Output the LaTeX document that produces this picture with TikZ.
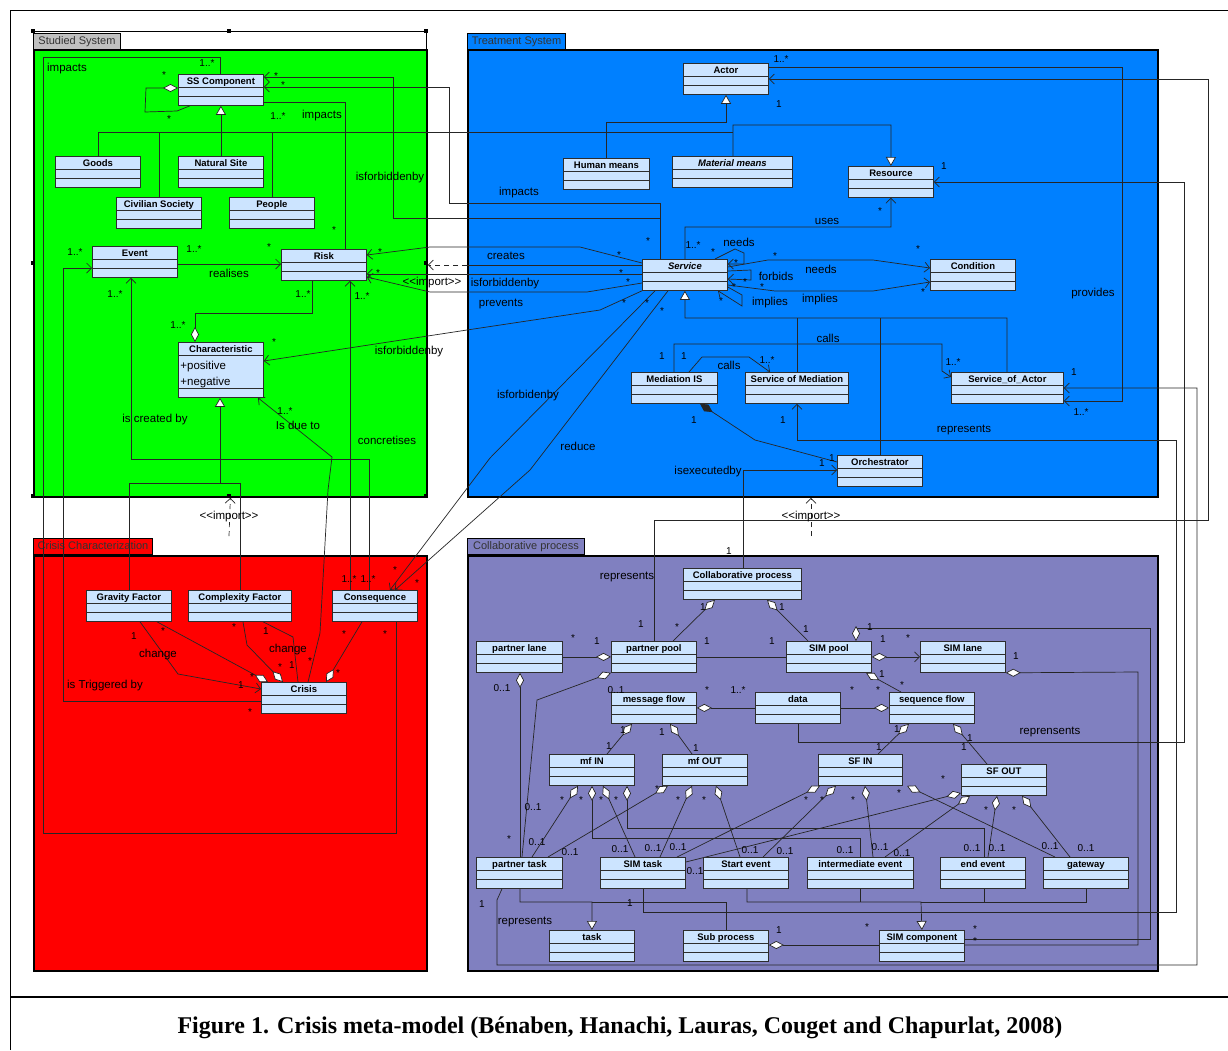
\documentclass[tikz,border=0pt]{standalone}
\usepackage{fontspec}
\setmainfont{Liberation Sans}
\newfontfamily\capfont{Liberation Serif}
\usetikzlibrary{arrows.meta}
\definecolor{studiedgreen}{RGB}{0,255,0}
\definecolor{treatblue}{RGB}{0,128,255}
\definecolor{crisisred}{RGB}{255,0,0}
\definecolor{collabpurple}{RGB}{128,128,192}
\definecolor{clsfill}{RGB}{204,228,255}
\definecolor{clsline}{RGB}{45,45,45}
\definecolor{tabgray}{RGB}{192,192,192}
\newcommand{\clsfont}{\fontsize{9.5}{11}\selectfont\bfseries}
\newcommand{\attrfont}{\fontsize{11.5}{16}\selectfont\mdseries}
\newcommand{\lblfont}{\fontsize{11.5}{13}\selectfont}
\newcommand{\multfont}{\fontsize{10}{12}\selectfont}
\newcommand{\imp}{\mbox{<}\mbox{<}import\mbox{>}\mbox{>}}
\pgfdeclarelayer{pkglayer}
\pgfdeclarelayer{linelayer}
\pgfsetlayers{pkglayer,linelayer,main}
\tikzset{
  cls/.style={draw=clsline, line width=0.8pt, fill=clsfill, minimum width=#1, inner sep=0pt, anchor=north west,
    text height=10.5pt, text depth=20.5pt, font=\clsfont,
    path picture={\draw[clsline, line width=0.8pt] ([yshift=-12.5pt]path picture bounding box.north west) -- ++(300pt,0pt)
      ([yshift=-21.5pt]path picture bounding box.north west) -- ++(300pt,0pt);}},
  cls/.default=85pt,
  clsattr/.style={draw=clsline, line width=0.8pt, fill=clsfill, minimum width=85pt, inner sep=0pt, anchor=north west,
    text height=10.5pt, text depth=44.5pt, font=\clsfont,
    path picture={\draw[clsline, line width=0.8pt] ([yshift=-12.5pt]path picture bounding box.north west) -- ++(300pt,0pt)
      ([yshift=-45.5pt]path picture bounding box.north west) -- ++(300pt,0pt);}},
  pkg/.style={draw=black, line width=1.8pt, anchor=north west, inner sep=0pt},
  pkgtab/.style={draw=black, line width=1pt, anchor=north west, inner sep=1pt, minimum height=16pt,
    text height=8.5pt, text depth=2.5pt, font=\fontsize{11}{13}\selectfont, text=black!80},
  lbl/.style={font=\lblfont, inner sep=0pt},
  mult/.style={font=\multfont, inner sep=0pt},
  nav/.style={-{Straight Barb[length=5pt,width=10pt]}},
  gen/.style={-{Triangle[open,length=9pt,width=10pt,fill=white]}},
  agg/.style={{Diamond[open,length=15pt,width=8pt,fill=white]}-},
  aggnav/.style={{Diamond[open,length=15pt,width=8pt,fill=white]}-{Straight Barb[length=5pt,width=10pt]}},
  comp/.style={{Diamond[length=15pt,width=8pt]}-},
  imp/.style={dash pattern=on 5pt off 4pt, -{Straight Barb[length=5pt,width=10pt]}},
}
\begin{document}
\begin{tikzpicture}[x=1pt, y=-1pt]
\useasboundingbox (0,0) rectangle (1228,1050);

% packages
\begin{pgfonlayer}{pkglayer}
\fill[white] (0,0) rectangle (1228,1050);
\node[pkg, fill=studiedgreen, minimum width=393pt, minimum height=447pt] (studied) at (33,49) {};
\node[pkg, fill=treatblue, minimum width=690pt, minimum height=447pt] (treat) at (467,49) {};
\node[pkg, fill=crisisred, minimum width=393pt, minimum height=415pt] (crisispkg) at (33,555) {};
\node[pkg, fill=collabpurple, minimum width=690pt, minimum height=415pt] (collabpkg) at (467,555) {};
\draw[line width=0.6pt] (33,31) rectangle (426,496);
\node[pkgtab, fill=tabgray, minimum width=87pt] (studiedtab) at (33,33) {Studied System};
\node[pkgtab, fill=treatblue, minimum width=98pt] (treattab) at (467,33) {Treatment System};
\node[pkgtab, fill=crisisred, minimum width=119pt] (crisistab) at (33,538) {Crisis Characterization};
\node[pkgtab, fill=collabpurple, minimum width=117pt] (collabtab) at (467,538) {Collaborative process};
\end{pgfonlayer}

% Studied System
\node[cls] (ss) at (178,74) {SS Component};
\node[cls] (goods) at (55,156) {Goods};
\node[cls] (natsite) at (178,156) {Natural Site};
\node[cls] (civil) at (116,197) {Civilian Society};
\node[cls] (people) at (229,197) {People};
\node[cls] (event) at (92,246) {Event};
\node[cls] (risk) at (281,249) {Risk};
\node[clsattr] (charac) at (178,342) {\parbox[t]{81pt}{\centering Characteristic\par\vspace{1pt}\raggedright\attrfont +positive\par +negative\par}};

% Crisis Characterization
\node[cls] (gravity) at (86,590) {Gravity Factor};
\node[cls=103pt] (complex) at (188,590) {Complexity Factor};
\node[cls] (conseq) at (332,590) {Consequence};
\node[cls] (crisis) at (261,682) {Crisis};

% Treatment System
\node[cls] (actor) at (683,63) {Actor};
\node[cls=86pt] (human) at (563,158) {Human means};
\node[cls=120pt, font=\clsfont\itshape] (matmeans) at (672,156) {Material means};
\node[cls] (resource) at (848,166) {Resource};
\node[cls, font=\clsfont\itshape] (service) at (642,259) {Service};
\node[cls] (condition) at (930,259) {Condition};
\node[cls=86pt] (medis) at (631,372) {Mediation IS};
\node[cls=103pt] (servmed) at (745,372) {Service of Mediation};
\node[cls=112pt] (soa) at (951,372) {Service\_of\_Actor};
\node[cls] (orch) at (837,455) {Orchestrator};

% Collaborative process
\node[cls=118pt] (collab) at (683,568) {Collaborative process};
\node[cls=86pt] (plane) at (476,641) {partner lane};
\node[cls] (ppool) at (611,641) {partner pool};
\node[cls] (simpool) at (786,641) {SIM pool};
\node[cls] (simlane) at (920,641) {SIM lane};
\node[cls] (mflow) at (611,692) {message flow};
\node[cls] (data) at (755,692) {data};
\node[cls] (seqflow) at (889,692) {sequence flow};
\node[cls] (mfin) at (549,754) {mf IN};
\node[cls] (mfout) at (662,754) {mf OUT};
\node[cls=84pt] (sfin) at (818,754) {SF IN};
\node[cls] (sfout) at (961,764) {SF OUT};
\node[cls=86pt] (ptask) at (476,857) {partner task};
\node[cls] (simtask) at (600,857) {SIM task};
\node[cls] (startev) at (703,857) {Start event};
\node[cls=106pt] (interm) at (807,857) {intermediate event};
\node[cls] (endev) at (940,857) {end event};
\node[cls] (gateway) at (1043,857) {gateway};
\node[cls] (task) at (549,930) {task};
\node[cls] (subproc) at (683,930) {Sub process};
\node[cls] (simcomp) at (879,930) {SIM component};

\coordinate (crisisimp) at (229,536);
\coordinate (collabimp) at (811,536);

\begin{pgfonlayer}{linelayer}
\begin{scope}[black!85, line width=0.7pt]
% studied system
\draw[agg] (ss.west |- 0,88) -- (146,88) -- (145,112) -- (177,111) -- (ss.south -| 190,0);
\draw (conseq.south -| 396,0) -- (396,833) -| (43,57) -| (ss.north -| 220,0);
\draw[gen] (natsite) -- (ss);
\draw (goods.north) |- (733,132);
\draw (civil.north) -- (civil.north |- 0,132);
\draw (people.north) -- (people.north |- 0,132);
\draw (risk.north -| 345,0) |- (ss.east |- 0,102);
\draw[nav] (service.north -| 660,0) |- (449,203) |- (ss.east |- 0,87);
\draw[nav] (service.north -| 660,0) |- (393,218) |- (ss.east |- 0,77);
\draw[nav] (event.east |- 0,264) -- (risk.west |- 0,264);
\draw[agg] (charac.north -| 195,0) |- (312,313) -- (risk.south -| 312,0);
\draw[gen] (gravity.north) |- (220,483) -- (charac.south -| 220,0);
\draw (complex.north) |- (220,483);
\draw[nav] (conseq.north -| 369,0) |- (131,459) -- (event.south -| 131,0);
\draw[nav] (crisis.north -| 308,0) -- (320,633) -- (328,490) -- (332,457) -- (charac.south -| 258,0);
\draw[nav] (conseq.north -| 350,0) -- (risk.south -| 350,0);
\draw[nav] (crisis.west |- 0,701) -| (63,268) -- (event.west |- 0,268);
% crisis characterization
\draw[nav] (gravity.south -| 140,0) -- (178,674) -- (crisis.west |- 0,689);
\draw[agg] (crisis.north -| 268,0) -- (gravity.south -| 157,0);
\draw[agg] (crisis.north -| 283,0) -- (247,645) -- (complex.south -| 243,0);
\draw (complex.south -| 263,0) -- (293,637) -- (crisis.north -| 298,0);
\draw[agg] (crisis.north -| 326,0) -- (conseq.south -| 362,0);
\draw[nav] (service.south -| 655,0) -- (490,458) -- (conseq.north -| 390,0);
\draw[nav] (service.south -| 668,0) -- (530,470) -- (conseq.north -| 395,0);
% treatment system
\draw[gen] (human.north -| 606,0) |- (726,122) -- (actor.south -| 726,0);
\draw[gen] (matmeans.north -| 733,0) |- (891,125) -- (resource.north);
\draw[nav] (service.north -| 685,0) |- (891,227) -- (resource.south);
\draw[nav] (actor.east |- 0,67) -| (1122,401) -- (soa.east |- 0,401);
\draw[nav] (ppool.north -| 654,0) |- (1208,520) |- (actor.east |- 0,79);
\draw[nav] (data.south -| 798,0) |- (1184,742) |- (resource.east |- 0,182);
\draw[nav] (simtask.south -| 643,0) |- (1176,912) |- (797,440) -- (servmed.south -| 797,0);
\draw[nav] (ptask.south -| 502,0) -- (497,900) |- (1197,965) |- (soa.east |- 0,388);
\draw[nav] (service.east |- 0,267) -- (768,260) -- (873,260) -- (condition.west |- 0,268);
\draw[nav] (service.east |- 0,285) -- (775,291) -- (873,291) -- (condition.west |- 0,282);
\draw[nav] (service.north -| 715,0) -- (735,249) -- (744,253) -- (744,264) -- (service.east |- 0,264);
\draw[nav] (service.east |- 0,271) -- (751,270) -- (751,280) -- (service.east |- 0,279);
\draw[nav] (service.east |- 0,287) -- (742,295) -- (742,306) -- (service.south -| 718,0);
\draw[nav] (service.west |- 0,263) -- (580,247) -- (430,247) -- (risk.east |- 0,255);
\draw[nav] (service.west |- 0,274) -- (risk.east |- 0,274);
\draw[nav] (service.west |- 0,283) -- (587,292) -- (430,292) -- (risk.east |- 0,277);
\draw (service.west |- 0,265) -- (treat.west |- 0,265);
\draw[nav] (service.south west) -- (600,310) -- (467,330) -- (charac.east |- 0,361);
\draw[gen] (soa.north -| 1007,0) |- (685,318) -- (service.south);
\draw (servmed.north) -- (servmed.north |- 0,318);
\draw (orch.north) -- (orch.north |- 0,318);
\draw[nav] (medis.north -| 674,0) |- (942,344) -- (942,371) -- (soa.west |- 0,377);
\draw[nav] (medis.north -| 689,0) -- (702,357) -- (749,357) -- (servmed.north -| 770,0);
\draw[comp] (medis.south -| 700,0) -- (755,440) -- (orch.west |- 0,462);
\draw[nav] (collab.north -| 743,0) |- (orch.west |- 0,470);
% imports
\draw[imp] (treat.west |- 0,265) -- (studied.east |- 0,265);
\draw[imp] (crisisimp) -- (studied.south);
\draw[imp] (collabimp) -- (treat.south -| 811,0);
% collaborative process
\draw[agg] (collab.south -| 715,0) -- (ppool.north -| 673,0);
\draw[agg] (collab.south -| 767,0) -- (simpool.north -| 808,0);
\draw[agg] (ppool.west) -- (plane.east);
\draw (ppool.east) -- (simpool.west);
\draw[aggnav] (simpool.east) -- (simlane.west);
\draw[agg] (simpool.north -| 856,0) |- (1150,628) |- (simcomp.east |- 0,939);
\draw[agg] (simlane.south east) -- (1138,672) |- (simcomp.east |- 0,945);
\draw[agg] (ppool.south west) -- (537,700) -- (ptask.north -| 522,0);
\draw[agg] (plane.south -| 520,0) -- (ptask.north -| 520,0);
\draw[agg] (mflow.east) -- (data.west);
\draw[agg] (seqflow.west) -- (data.east);
\draw[agg] (simpool.south -| 866,0) -- (seqflow.north -| 901,0);
\draw[agg] (mflow.south -| 632,0) -- (mfin.north -| 607,0);
\draw[agg] (mflow.south -| 670,0) -- (mfout.north -| 692,0);
\draw[agg] (seqflow.south -| 909,0) -- (sfin.north -| 878,0);
\draw[agg] (seqflow.south -| 953,0) -- (sfout.north -| 987,0);
\draw[agg] (mfin.south -| 578,0) -- (ptask.north -| 532,0);
\draw[agg] (mfin.south -| 592,0) |- (860,838) -- (interm.north -| 860,0);
\draw[agg] (mfin.south -| 603,0) -- (simtask.north -| 635,0);
\draw[agg] (mfin.south -| 627,0) |- (984,828) -- (endev.north -| 984,0);
\draw[agg] (mfout.south -| 668,0) -- (ptask.north -| 548,0);
\draw[agg] (mfout.south -| 692,0) -- (simtask.north -| 660,0);
\draw[agg] (mfout.south -| 716,0) -- (startev.north -| 740,0);
\draw[agg] (sfin.south -| 820,0) -- (simtask.north -| 677,0);
\draw[agg] (sfin.south -| 836,0) -- (startev.north -| 763,0);
\draw[agg] (sfin.south -| 865,0) -- (interm.north -| 873,0);
\draw[agg] (sfin.south -| 907,0) -- (gateway.north -| 1055,0);
\draw[agg] (sfout.west |- 0,793) -- (simtask.east |- 0,862);
\draw[agg] (sfout.south -| 970,0) -- (interm.north -| 885,0);
\draw[agg] (sfout.south -| 997,0) -- (endev.north -| 988,0);
\draw[agg] (sfout.south -| 1022,0) -- (gateway.north -| 1070,0);
\draw[gen] (ptask.south -| 520,0) |- (592,902) -- (task.north);
\draw (subproc.north) |- (592,902);
\draw[gen] (startev.south -| 747,0) |- (921,902) -- (simcomp.north);
\draw (gateway.south) |- (921,902);
\draw (interm.south -| 860,0) -- (860,902);
\draw (endev.south -| 984,0) -- (984,902);
\draw[agg] (subproc.east |- 0,945) -- (simcomp.west |- 0,945);
\end{scope}
\end{pgfonlayer}

% selection handles
\foreach \x/\y [count=\i] in {33/31, 229/31, 426/31, 33/263, 426/263, 33/496, 229/496, 426/496}
  \node[fill=black, minimum size=4pt, inner sep=0pt] (handle\i) at (\x,\y) {};

% association names
\foreach \x/\y/\t [count=\i] in {67/69/impacts, 322/116/impacts, 390/178/isforbiddenby, 229/273/realises,
  409/352/isforbiddenby, 155/420/is created by, 298/425/Is due to, 387/440/concretises,
  432/283/\imp, 229/517/\imp, 811/517/\imp, 519/193/impacts, 827/221/uses, 739/242/needs,
  506/256/creates, 821/269/needs, 776/276/forbids, 505/284/isforbiddenby, 1093/294/provides,
  770/303/implies, 820/300/implies, 501/304/prevents, 828/338/calls, 729/365/calls,
  528/396/isforbidenby, 964/430/represents, 578/446/reduce, 708/472/isexecutedby,
  158/655/change, 288/650/change, 105/686/is Triggered by, 627/577/represents,
  1050/732/reprensents, 525/922/represents}
  \node[lbl] (rel\i) at (\x,\y) {\t};

% multiplicities
\foreach \x/\y/\t [count=\i] in {207/63/1..*, 164/75/*, 169/119/*, 276/76/*, 283/85/*, 278/116/1..*,
  334/230/*, 75/252/1..*, 194/249/1..*, 269/247/*, 380/252/*, 378/273/*, 115/294/1..*,
  303/294/1..*, 362/296/1..*, 178/325/1..*, 274/342/*, 285/411/1..*,
  349/579/1..*, 368/579/1..*, 395/570/*, 417/583/*, 134/636/1, 163/631/*, 234/627/*,
  266/631/1, 344/634/*, 385/634/*, 241/685/1, 252/677/*, 280/667/*, 292/665/1, 310/661/*,
  338/673/*, 250/712/*,
  781/59/1..*, 779/104/1, 944/166/1, 880/211/*, 648/241/*, 693/245/1..*, 713/252/*,
  619/255/*, 621/273/*, 628/282/*, 624/303/*, 647/303/*, 662/311/*, 736/263/*, 775/256/*,
  745/282/*, 734/287/*, 762/287/*, 721/301/*, 918/249/*, 923/292/*, 662/356/1, 684/356/1,
  767/360/1..*, 953/362/1..*, 1074/372/1, 1081/412/1..*, 694/420/1, 783/420/1, 822/463/1,
  832/458/1,
  729/551/1, 703/607/1, 782/607/1, 641/624/1, 677/627/*, 806/629/1, 870/627/1, 573/638/*,
  597/641/1, 707/641/1, 772/641/1, 883/639/1, 908/638/*, 1016/656/1, 502/688/0..1,
  616/690/0..1, 707/690/*, 738/690/1..*, 852/690/*, 878/690/*, 882/674/1, 902/685/*,
  623/730/1, 662/732/1, 897/729/1, 970/738/1, 609/746/1, 696/748/1, 879/747/1, 964/747/1,
  943/779/*, 562/800/*, 581/800/*, 601/800/*, 616/800/*, 657/789/*, 678/800/*, 704/800/*,
  806/800/*, 822/800/*, 853/800/*, 899/793/*, 986/810/*, 1014/810/*, 533/807/0..1,
  509/839/*, 537/842/0..1, 570/852/0..1, 620/849/0..1, 653/848/0..1, 678/847/0..1,
  695/871/0..1, 750/850/0..1, 785/851/0..1, 845/850/0..1, 880/847/0..1, 902/853/0..1,
  972/848/0..1, 997/848/0..1, 1050/846/0..1, 1086/848/0..1, 482/904/1, 630/903/1,
  779/930/1, 867/927/*, 975/929/*, 975/941/*}
  \node[mult] (mul\i) at (\x,\y) {\t};

% frame and caption
\draw[line width=1pt] (10,1050) -- (10,10) -- (1228,10);
\draw[line width=2.5pt] (10,997) -- (1228,997);
\node[font=\capfont\bfseries\fontsize{24}{28}\selectfont] (caption) at (620,1028)
  {Figure 1. Crisis meta-model (Bénaben, Hanachi, Lauras, Couget and Chapurlat, 2008)};
\end{tikzpicture}
\end{document}
